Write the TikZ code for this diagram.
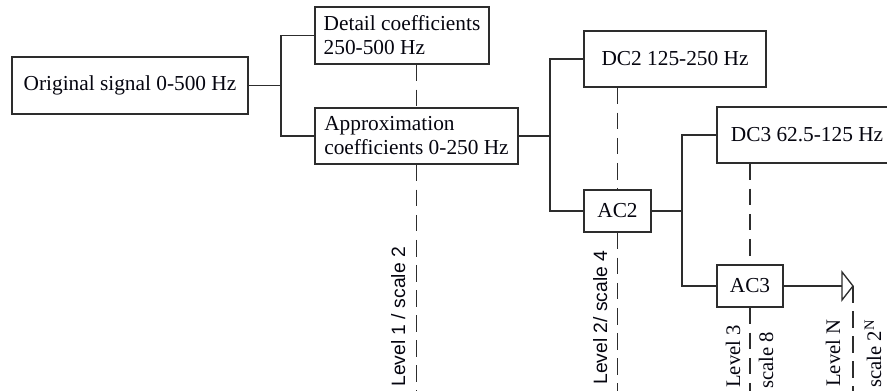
\documentclass[tikz,border=0pt]{standalone}
\usepackage{fontspec}
\setmainfont{Liberation Serif}
\newfontfamily\labsans{Liberation Sans}
\definecolor{linec}{RGB}{45,45,45}
\definecolor{txtc}{RGB}{5,5,15}
\begin{document}
\begin{tikzpicture}[x=0.75pt,y=-0.75pt,
  box/.style={draw=linec, line width=1pt, inner sep=0pt, font=\fontsize{16}{18}\selectfont, text=txtc, align=left},
  conn/.style={draw=linec, line width=1pt},
  dline/.style={draw=linec, line width=1pt, dash pattern=on 12.5pt off 6.3pt},
  slab/.style={rotate=90, inner sep=0pt, font=\labsans\fontsize{14.5}{16}\selectfont, text=txtc},
  rlab/.style={rotate=90, inner sep=0pt, font=\fontsize{15.5}{17}\selectfont, text=txtc}]
\useasboundingbox (0,0) rectangle (887,390);
\coordinate (bot) at (0,392);
% boxes
\node[box, minimum width=177pt, minimum height=42.75pt] (orig) at (130,85.5) {Original signal 0-500 Hz};
\node[box, minimum width=130.5pt, minimum height=42.75pt] (det) at (402,35.5) {Detail coefficients\\250-500 Hz};
\node[box, minimum width=152.25pt, minimum height=42pt] (app) at (416.5,136) {Approximation\\coefficients 0-250 Hz};
\node[box, minimum width=136.5pt, minimum height=42pt] (dc2) at (675,59) {DC2 125-250 Hz};
\node[box, minimum width=50.25pt, minimum height=31.5pt] (ac2) at (617.5,211) {AC2};
\node[box, minimum width=135pt, minimum height=42pt] (dc3) at (807,135) {DC3 62.5-125 Hz};
\node[box, minimum width=49.5pt, minimum height=31.5pt] (ac3) at (750,286) {AC3};
% junctions
\coordinate (j1) at (281,85.5);
\coordinate (j2) at (550,136);
\coordinate (j3) at (682,211);
\coordinate (tipb) at (842,286);
% solid connectors
\draw[conn] (orig.east) -- (j1);
\draw[conn] (det.west) -| (j1);
\draw[conn] (app.west) -| (j1);
\draw[conn] (app.east) -- (j2);
\draw[conn] (dc2.west) -| (j2);
\draw[conn] (ac2.west) -| (j2);
\draw[conn] (ac2.east) -- (j3);
\draw[conn] (dc3.west) -| (j3);
\draw[conn] (ac3.west) -| (j3);
\draw[conn] (ac3.east) -- (tipb);
\draw[conn, line join=miter] (tipb) ++(0,-14) -- ++(11,14) coordinate (tip) -- ++(-11,14) -- cycle;
% dashed level lines
\draw[dline] (app.north |- det.south) -- (app.north);
\draw[dline] (app.south) -- (app.south |- bot);
\draw[dline] (ac2.north |- dc2.south) -- (ac2.north);
\draw[dline] (ac2.south) -- (ac2.south |- bot);
\draw[dline] (ac3.north |- dc3.south) -- (ac3.north);
\draw[dline] (ac3.south) -- (ac3.south |- bot);
\draw[dline] (tip) -- (tip |- bot);
% labels
\node[slab, anchor=base west] (l1) at (405,387) {Level 1 / scale 2};
\node[slab, anchor=base west] (l2) at (607,385) {Level 2/ scale 4};
\node[rlab, anchor=base west] (l3a) at (740,388) {Level 3};
\node[rlab, anchor=base west] (l3b) at (773,389) {scale 8};
\node[rlab, anchor=base west] (lna) at (840,387) {Level N};
\node[rlab, anchor=base west] (lnb) at (881,388) {scale 2\textsuperscript{N}};
\end{tikzpicture}
\end{document}
